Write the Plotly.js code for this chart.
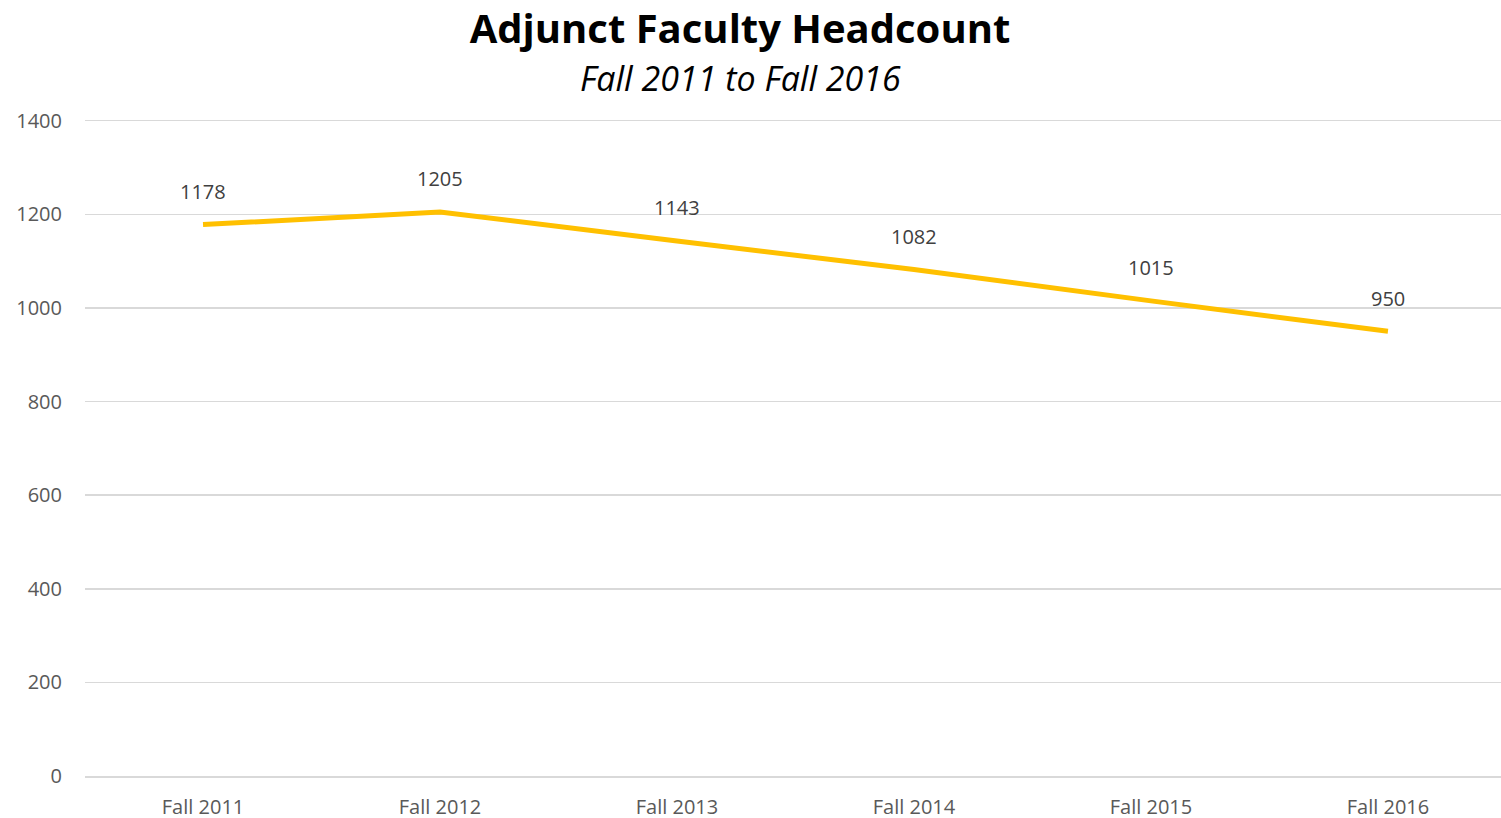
<!DOCTYPE html>
<html><head><meta charset="utf-8">
<script src="https://cdn.plot.ly/plotly-3.0.1.min.js"></script>
<style>html,body{margin:0;padding:0;background:#fff}#chart{width:1501px;height:818px}</style>
</head><body><div id="chart"></div>
<script>
var categories = ["Fall 2011","Fall 2012","Fall 2013","Fall 2014","Fall 2015","Fall 2016"];
var headcount = [1178,1205,1143,1082,1015,950];
var yTicks = [0,200,400,600,800,1000,1200,1400];

var trace = {
  x: categories, y: headcount, type: "scatter", mode: "lines",
  line: {color: "#FFC000", width: 5}, hoverinfo: "x+y", cliponaxis: false
};
var annotations = categories.map(function(c,i){
  return {x: c, y: headcount[i], text: String(headcount[i]), showarrow: false,
    yshift: 33, font: {family: "Open Sans, Lato, sans-serif", size: 20, color: "#404040"}};
});
annotations.push({xref:"paper", yref:"paper", x:0.463, y:1, yanchor:"bottom", yshift:13,
  text:"<i>Fall 2011 to Fall 2016</i>", showarrow:false,
  font:{family:"Open Sans, Lato, sans-serif", size:34, color:"#000"}});
var layout = {
  width: 1501, height: 818,
  margin: {l: 85, r: 0, t: 116, b: 42},
  paper_bgcolor: "#fff", plot_bgcolor: "#fff",
  title: {text: "<b>Adjunct Faculty Headcount</b>", x: 0.493, xanchor: "center", y: 0.965, yanchor: "middle",
    font: {family: "Open Sans, Lato, sans-serif", size: 40, color: "#000"}},
  showlegend: false,
  xaxis: {type: "category", range: [-0.498, 5.477], showgrid: false, showline: true, linecolor: "#d9d9d9", linewidth: 1.5,
    ticks: "", ticklabelstandoff: 12, tickfont: {family: "Open Sans, Lato, sans-serif", size: 20, color: "#595959"}, fixedrange: true},
  yaxis: {range: [0, 1410], tickvals: yTicks, showgrid: true, gridcolor: "#d9d9d9", gridwidth: 1.5, zeroline: false,
    ticks: "", ticklen: 0, ticklabelstandoff: 22, tickfont: {family: "Open Sans, Lato, sans-serif", size: 20, color: "#595959"}, fixedrange: true},
  annotations: annotations
};
Plotly.newPlot("chart", [trace], layout, {displayModeBar: false, staticPlot: true});
</script></body></html>
